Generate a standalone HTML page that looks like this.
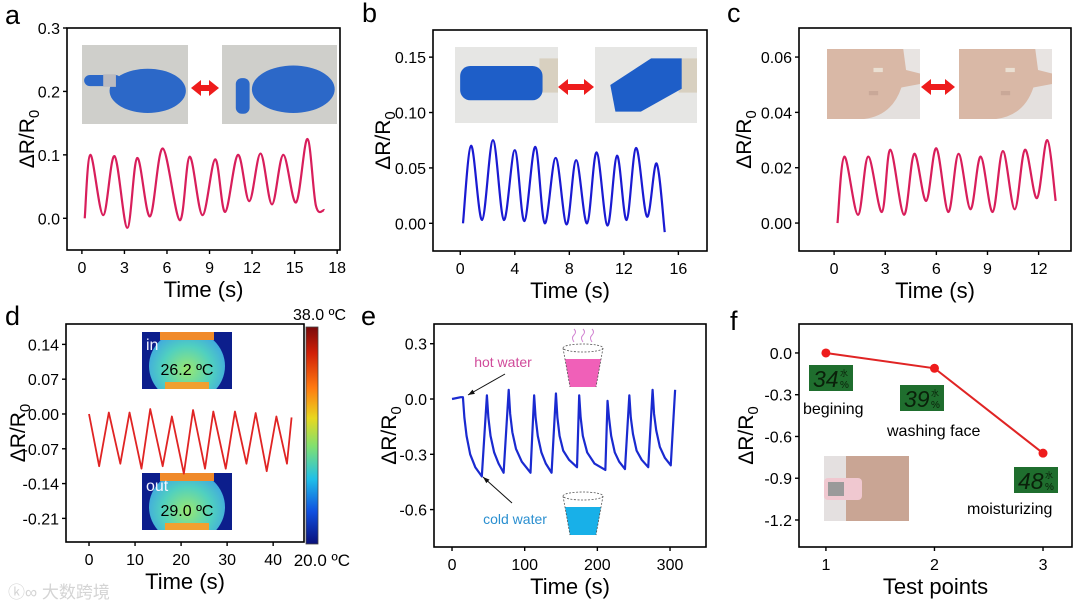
<!DOCTYPE html>
<html><head><meta charset="utf-8"><style>
html,body{margin:0;padding:0;background:#fff;}
svg{display:block;font-family:"Liberation Sans","Noto Sans CJK SC",sans-serif;}
</style></head><body>
<svg id="fig" width="1080" height="608" viewBox="0 0 1080 608" xmlns="http://www.w3.org/2000/svg">
<defs>
<linearGradient id="cbar" x1="0" y1="0" x2="0" y2="1">
<stop offset="0" stop-color="#7a0a0a"/><stop offset="0.12" stop-color="#d02008"/><stop offset="0.28" stop-color="#ff7a10"/>
<stop offset="0.42" stop-color="#e8d820"/><stop offset="0.55" stop-color="#80e070"/><stop offset="0.7" stop-color="#20c0e8"/>
<stop offset="0.85" stop-color="#1050e0"/><stop offset="1" stop-color="#0a107a"/></linearGradient>
<radialGradient id="therm" cx="0.5" cy="0.55" r="0.55"><stop offset="0" stop-color="#9ae870"/><stop offset="0.6" stop-color="#50d0c0"/><stop offset="1" stop-color="#40a8e0"/></radialGradient>
<clipPath id="clipIn"><rect x="142" y="332" width="90" height="57"/></clipPath>
<clipPath id="clipOut"><rect x="142" y="473" width="90" height="57"/></clipPath>
</defs>
<g id="static"></g>
</svg>
<script>
// ---- data ----
const aTimes=[0.2,0.6,1.5,2.3,3.2,3.9,4.8,5.7,6.9,7.6,8.5,9.4,10.1,11.0,11.8,12.6,13.4,14.2,15.1,15.9,16.5,17.1];
const aValues=[0.0,0.100,0.005,0.098,-0.015,0.095,0.003,0.110,-0.003,0.097,0.005,0.093,0.010,0.100,0.027,0.102,0.022,0.100,0.025,0.125,0.020,0.013];
const aXTicks=[0,3,6,9,12,15,18];
const aYTicks=["0.0","0.1","0.2","0.3"];

const bTimes=[0.2,0.8,1.6,2.4,3.2,4.0,4.7,5.5,6.2,7.0,7.8,8.5,9.3,10.0,10.8,11.5,12.2,12.9,13.7,14.4,15.0];
const bValues=[0.0,0.070,0.003,0.075,0.003,0.066,0.002,0.069,0.0,0.059,-0.001,0.057,0.0,0.064,-0.002,0.061,0.003,0.068,0.006,0.054,-0.008];
const bXTicks=[0,4,8,12,16];
const bYTicks=["0.00","0.05","0.10","0.15"];

const cTimes=[0.2,0.6,1.4,2.0,2.8,3.3,4.1,4.7,5.4,6.0,6.7,7.3,8.0,8.6,9.3,9.9,10.6,11.2,11.9,12.5,13.0];
const cValues=[0.0,0.024,0.003,0.024,0.004,0.0265,0.003,0.025,0.008,0.027,0.004,0.025,0.005,0.024,0.004,0.026,0.005,0.0265,0.009,0.030,0.008];
const cXTicks=[0,3,6,9,12];
const cYTicks=["0.00","0.02","0.04","0.06"];

const dTimes=[0,2.2,4.3,6.8,8.8,11.4,13.3,16.0,18.0,20.6,22.6,25.2,27.0,29.7,31.7,34.2,36.2,38.6,40.7,43.0,44.0];
const dValues=[0.0,-0.105,0.003,-0.100,0.003,-0.110,0.010,-0.105,-0.005,-0.120,0.008,-0.110,0.005,-0.110,0.005,-0.100,0.002,-0.115,-0.005,-0.100,-0.007];
const dXTicks=[0,10,20,30,40];
const dYTicks=["-0.21","-0.14","-0.07","0.00","0.07","0.14"];

const eTimes=[0,12,15,17,20,25,32,41,48,50,53,58,64,71,78,80,83,88,96,108,113,115,118,123,129,137,143,145,148,153,161,172,175,177,180,186,196,211,214,216,219,224,230,238,244,246,249,254,261,270,276,278,281,286,293,301,307];
const eValues=[0,0.01,0.01,-0.1,-0.2,-0.3,-0.37,-0.42,0.02,-0.1,-0.2,-0.29,-0.35,-0.40,0.05,-0.08,-0.18,-0.27,-0.34,-0.40,0.02,-0.1,-0.2,-0.29,-0.35,-0.40,0.03,-0.1,-0.2,-0.28,-0.33,-0.37,0.02,-0.1,-0.2,-0.29,-0.35,-0.385,-0.01,-0.1,-0.2,-0.29,-0.34,-0.38,0.02,-0.1,-0.19,-0.28,-0.33,-0.37,0.05,-0.08,-0.17,-0.26,-0.32,-0.36,0.05];
const eXTicks=[0,100,200,300];
const eYTicks=["-0.6","-0.3","0.0","0.3"];

const fPoints=[1,2,3];
const fValues=[0,-0.11,-0.72];
const fXTicks=[1,2,3];
const fYTicks=["-1.2","-0.9","-0.6","-0.3","0.0"];

// ---- helpers ----
const NS="http://www.w3.org/2000/svg";
const root=document.getElementById('static');
function mk(tag,attrs,parent,text){const e=document.createElementNS(NS,tag);for(const k in attrs)e.setAttribute(k,attrs[k]);if(text!==undefined)e.textContent=text;(parent||root).appendChild(e);return e;}
function scale(d0,d1,r0,r1){return v=>r0+(v-d0)/(d1-d0)*(r1-r0);}
function smoothPath(pts){let d=`M${pts[0][0]},${pts[0][1]}`;for(let i=0;i<pts.length-1;i++){const p0=pts[Math.max(0,i-1)],p1=pts[i],p2=pts[i+1],p3=pts[Math.min(pts.length-1,i+2)];const c1=[p1[0]+(p2[0]-p0[0])/6,p1[1]+(p2[1]-p0[1])/6];const c2=[p2[0]-(p3[0]-p1[0])/6,p2[1]-(p3[1]-p1[1])/6];d+=` C${c1[0]},${c1[1]} ${c2[0]},${c2[1]} ${p2[0]},${p2[1]}`;}return d;}

function axes(name,box,xd,yd,xTicks,yTicks,xlabel,ylabOff){
  const g=mk('g',{});
  
  
  const sx=scale(xd[0],xd[1],box.l,box.r), sy=scale(yd[0],yd[1],box.b,box.t);
  mk('rect',{x:box.l,y:box.t,width:box.r-box.l,height:box.b-box.t,fill:'none',stroke:'#000','stroke-width':1.6},g);
  xTicks.forEach(t=>{const x=sx(t);
    mk('line',{x1:x,x2:x,y1:box.b,y2:box.b+4,stroke:'#000','stroke-width':1.4},g);
    const tl=mk('text',{x:x,y:box.b+23,'font-size':16,'text-anchor':'middle'},g,String(t));
    
    });
  yTicks.forEach(t=>{const y=sy(parseFloat(t));
    mk('line',{x1:box.l-4,x2:box.l,y1:y,y2:y,stroke:'#000','stroke-width':1.4},g);
    const tl=mk('text',{x:box.l-7,y:y+6,'font-size':16,'text-anchor':'end'},g,t);
    
    });
  const xl=mk('text',{x:(box.l+box.r)/2,y:box.b+47,'font-size':22,'text-anchor':'middle'},g,xlabel);
  
  
  const cx=box.l-ylabOff, cy=(box.t+box.b)/2;
  const yl=mk('text',{x:cx,y:cy,'font-size':21,'text-anchor':'middle',transform:`rotate(-90 ${cx} ${cy})`,dy:7},g);
  
  
  mk('tspan',{},yl,'ΔR/R');mk('tspan',{'font-size':15,dy:5},yl,'0');
  return {sx,sy};
}
function series(name,s,xs,ys,color,smooth,w){
  const pts=xs.map((t,i)=>[s.sx(t),s.sy(ys[i])]);
  const d=smooth?smoothPath(pts):'M'+pts.map(p=>p.join(',')).join(' L');
  const p=mk('path',{d:d,fill:'none',stroke:color,'stroke-width':w||2.2,'stroke-linejoin':'round'});
  
  
}
function letter(ch,x,y){const t=mk('text',{x:x,y:y,'font-size':27},root,ch);
  
  }
function photo(name,x,y,w,h,kind,flip){
  const g=mk('g',{});
  
  
  if(kind==='glove'){mk('rect',{x,y,width:w,height:h,fill:'#cfcfcb'},g);
    if(!flip){mk('ellipse',{cx:x+w*0.62,cy:y+h*0.58,rx:w*0.36,ry:h*0.28,fill:'#2c68c8'},g);
      mk('rect',{x:x+w*0.02,y:y+h*0.38,width:w*0.35,height:h*0.14,rx:6,fill:'#2c68c8'},g);
      mk('rect',{x:x+w*0.2,y:y+h*0.37,width:w*0.12,height:h*0.16,fill:'#bbbbc0'},g);}
    else{mk('ellipse',{cx:x+w*0.62,cy:y+h*0.56,rx:w*0.36,ry:h*0.3,fill:'#2c68c8'},g);
      mk('rect',{x:x+w*0.12,y:y+h*0.42,width:w*0.12,height:h*0.45,rx:6,fill:'#2c68c8'},g);}
  } else if(kind==='fist'){mk('rect',{x,y,width:w,height:h,fill:'#e6e6e4'},g);
    mk('rect',{x:x+w*0.82,y:y+h*0.15,width:w*0.18,height:h*0.45,fill:'#d8d0c0'},g);
    if(!flip) mk('rect',{x:x+w*0.05,y:y+h*0.25,width:w*0.8,height:h*0.45,rx:10,fill:'#1e5ec8'},g);
    else mk('polygon',{points:`${x+w*0.2},${y+h*0.85} ${x+w*0.15},${y+h*0.5} ${x+w*0.55},${y+h*0.15} ${x+w*0.85},${y+h*0.15} ${x+w*0.85},${y+h*0.55} ${x+w*0.45},${y+h*0.85}`,fill:'#1e5ec8'},g);
  } else if(kind==='face'){mk('rect',{x,y,width:w,height:h,fill:'#d9b8a6'},g);
    mk('path',{d:`M${x+w*0.82},${y} L${x+w*0.85},${y+h*0.3} L${x+w},${y+h*0.35} L${x+w},${y} Z`,fill:'#e8e4e2'},g);
    mk('path',{d:`M${x+w*0.8},${y+h*0.55} Q${x+w*0.7},${y+h*0.95} ${x+w*0.4},${y+h} L${x+w},${y+h} L${x+w},${y+h*0.5} Z`,fill:'#e4e0de'},g);
    mk('rect',{x:x+w*0.5,y:y+h*0.27,width:w*0.1,height:h*0.06,fill:'#eadfd2'},g);
    mk('rect',{x:x+w*0.45,y:y+h*0.6,width:w*0.1,height:h*0.06,fill:'#c9a898'},g);
  }
}
function dblArrow(name,x1,x2,y){const g=mk('g',{});
  
  
  mk('polygon',{points:`${x1},${y} ${x1+10},${y-8} ${x1+10},${y-3} ${x2-10},${y-3} ${x2-10},${y-8} ${x2},${y} ${x2-10},${y+8} ${x2-10},${y+3} ${x1+10},${y+3} ${x1+10},${y+8}`,fill:'#ee1c1c'},g);}

// ---- panel a ----
letter('a',5,24);
photo('photo-finger-straight',82,45,106,79,'glove',false);
photo('photo-finger-bent',222,45,115,79,'glove',true);
dblArrow('arrow-a',191,219,88);
const A=axes('panel-a',{l:67,t:28,r:340,b:250},[-1.05,18.2],[-0.05,0.3],aXTicks,aYTicks,'Time (s)',40);
series('series-a',A,aTimes,aValues,'#d81e5b',true);

// ---- panel b ----
letter('b',362,22);
photo('photo-wrist-straight',455,47,103,76,'fist',false);
photo('photo-wrist-bent',595,47,102,76,'fist',true);
dblArrow('arrow-b',558,594,87);
const B=axes('panel-b',{l:433,t:30,r:707,b:251},[-2,18.1],[-0.025,0.1745],bXTicks,bYTicks,'Time (s)',50);
series('series-b',B,bTimes,bValues,'#1a1ad2',true);

// ---- panel c ----
letter('c',727,22);
photo('photo-face-closed',827,49,93,70,'face');
photo('photo-face-open',959,49,93,70,'face');
dblArrow('arrow-c',921,955,87);
const C=axes('panel-c',{l:799,t:28,r:1071,b:251},[-2.06,13.9],[-0.0101,0.0705],cXTicks,cYTicks,'Time (s)',55);
series('series-c',C,cTimes,cValues,'#d81e5b',true);

// ---- panel d ----
letter('d',5,325);
function thermal(name,y,label,temp,clip){const g=mk('g',{'clip-path':`url(#${clip})`});
  
  
  mk('rect',{x:142,y:y,width:90,height:57,fill:'#0c1e8c'},g);
  mk('ellipse',{cx:187,cy:y+34,rx:38,ry:36,fill:'url(#therm)'},g);
  mk('rect',{x:160,y:y,width:54,height:8,fill:'#f08a2a'},g);
  mk('rect',{x:165,y:y+50,width:44,height:7,fill:'#f0a030'},g);
  mk('text',{x:146,y:y+18,'font-size':16,fill:'#f4f4ff'},g,label);
  mk('text',{x:187,y:y+43,'font-size':16,'text-anchor':'middle',fill:'#000'},g,temp);}
thermal('thermal-in',332,'in','26.2 ºC','clipIn');
thermal('thermal-out',473,'out','29.0 ºC','clipOut');
const D=axes('panel-d',{l:66,t:324,r:304,b:542},[-5,46.7],[-0.2575,0.181],dXTicks,dYTicks,'Time (s)',48);
series('series-d',D,dTimes,dValues,'#e02424',false,1.8);
const cb=mk('rect',{x:306,y:327,width:12,height:217,fill:'url(#cbar)',stroke:'#444','stroke-width':0.8});


const cbt=mk('text',{x:346,y:320,'font-size':16,'text-anchor':'end'},root,'38.0 ºC');


const cbb=mk('text',{x:350,y:566,'font-size':17,'text-anchor':'end'},root,'20.0 ºC');


const wm=mk('text',{x:8,y:598,'font-size':17,fill:'#d4d4d4'},root,'ⓚ∞ 大数跨境');



// ---- panel e ----
letter('e',361,325);
const E=axes('panel-e',{l:434,t:324,r:706,b:547},[-24.8,349.5],[-0.803,0.407],eXTicks,eYTicks,'Time (s)',45);
series('series-e',E,eTimes,eValues,'#1a2ad0',false,2.2);
function cup(name,y,fill,steam){const g=mk('g',{});
  
  
  mk('ellipse',{cx:583,cy:y+4,rx:20,ry:4,fill:'none',stroke:'#555','stroke-width':0.8,'stroke-dasharray':'2 1.5'},g);
  mk('path',{d:`M${565},${y+15} L${601},${y+15} L${596},${y+43} L${570},${y+43} Z`,fill:fill},g);
  mk('path',{d:`M563,${y+4} L570,${y+43} M603,${y+4} L596,${y+43}`,stroke:'#555','stroke-width':0.8,'stroke-dasharray':'2 1.5',fill:'none'},g);
  if(steam){[574,583,592].forEach(x=>mk('path',{d:`M${x},${y-2} q-3,-4 0,-7 q3,-3 0,-6`,stroke:'#d080d0','stroke-width':1,fill:'none'},g));}}
cup('hot-water-cup',344,'#f060b8',true);
cup('cold-water-cup',492,'#18b0e8',false);
const hw=mk('text',{x:503,y:367,'font-size':14,'text-anchor':'middle',fill:'#d04a9a'},root,'hot water');


const cw=mk('text',{x:515,y:524,'font-size':14,'text-anchor':'middle',fill:'#2a8fd0'},root,'cold water');


function arrow(name,x1,y1,x2,y2){const g=mk('g',{});
  
  
  mk('line',{x1,y1,x2,y2,stroke:'#111','stroke-width':1},g);
  const a=Math.atan2(y2-y1,x2-x1),L=7;
  mk('polygon',{points:`${x2},${y2} ${x2-L*Math.cos(a-0.35)},${y2-L*Math.sin(a-0.35)} ${x2-L*Math.cos(a+0.35)},${y2-L*Math.sin(a+0.35)}`,fill:'#111'},g);}
arrow('hot-water-arrow',505,374,468,395);
arrow('cold-water-arrow',512,503,483,477);

// ---- panel f ----
letter('f',730,330);
const F=axes('panel-f',{l:799,t:324,r:1072,b:547},[0.752,3.267],[-1.394,0.208],fXTicks,fYTicks,'Test points',53);
const fp=fPoints.map((t,i)=>[F.sx(t),F.sy(fValues[i])]);
const fl=mk('polyline',{points:fp.map(p=>p.join(',')).join(' '),fill:'none',stroke:'#e02424','stroke-width':2});


fp.forEach((p,i)=>{const c=mk('circle',{cx:p[0],cy:p[1],r:4.5,fill:'#ee1c1c'});
  
  });
function badge(name,x,y,num){const g=mk('g',{});
  
  
  mk('rect',{x,y,width:44,height:26,fill:'#1f6e2e'},g);
  mk('text',{x:x+4,y:y+22,'font-size':23,fill:'#0a200a','font-style':'italic'},g,num);
  mk('text',{x:x+31,y:y+11,'font-size':8,fill:'#0a200a'},g,'水');
  mk('text',{x:x+31,y:y+23,'font-size':10,fill:'#0a200a'},g,'%');}
badge('moisture-badge-34',809,365,'34');
badge('moisture-badge-39',900,385,'39');
badge('moisture-badge-48',1014,467,'48');
[['begining',803,414],['washing face',887,436],['moisturizing',967,514]].forEach(l=>{
  const t=mk('text',{x:l[1],y:l[2],'font-size':16},root,l[0]);
  
  });
const ph=mk('g',{});


mk('rect',{x:824,y:456,width:85,height:65,fill:'#c9a594'},ph);
mk('rect',{x:824,y:456,width:22,height:65,fill:'#e4e0e0'},ph);
mk('rect',{x:824,y:478,width:38,height:22,rx:4,fill:'#f0c8d0'},ph);
mk('rect',{x:828,y:482,width:16,height:14,fill:'#9a9a9a'},ph);
</script>
</body></html>
